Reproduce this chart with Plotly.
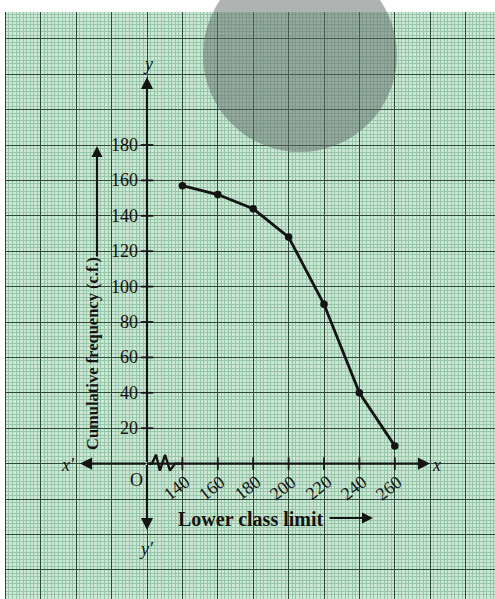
import plotly.graph_objects as go

# ogive ("more than" type)
lower_limits = [140, 160, 180, 200, 220, 240, 260]
cum_freq = [157, 152, 144, 128, 90, 40, 10]

y_ticks = [20, 40, 60, 80, 100, 120, 140, 160, 180]
x_ticks = [140, 160, 180, 200, 220, 240, 260]

# the origin stands for 120 on the x scale (axis break drawn as a zigzag)
x_origin = 120
break_x = [120, 122.8, 125.1, 127.3, 130.2, 133.0, 135.8, 140]
break_y = [0, 0, 5, -4, 5, -4, 0, 0]

W, H = 495, 599
K = 35.4 / 20  # pixels per unit (one big square = 20 units)
OX, OY = 147, 463.6  # pixel position of the origin


def dx(p):
    return x_origin + (p - OX) / K


def dy(p):
    return (OY - p) / K


SERIF = "Liberation Serif"
INK = "#141414"
PAPER = "#cde8d6"
MINOR = "#98c6a8"
MAJOR = "#2c4a37"

fig = go.Figure()

# ogive
fig.add_trace(go.Scatter(
    x=lower_limits, y=cum_freq, mode="lines+markers",
    line=dict(color=INK, width=2.8),
    marker=dict(color=INK, size=7.5),
    showlegend=False, hoverinfo="skip",
))

# axis break zigzag
fig.add_trace(go.Scatter(
    x=break_x, y=break_y, mode="lines",
    line=dict(color=INK, width=2.4),
    showlegend=False, hoverinfo="skip",
))

# tick marks
fig.add_trace(go.Scatter(
    x=[x_origin] * len(y_ticks), y=y_ticks, mode="markers",
    marker=dict(symbol="line-ew", size=9, line=dict(color=INK, width=1.8)),
    showlegend=False, hoverinfo="skip",
))
fig.add_trace(go.Scatter(
    x=x_ticks, y=[0] * len(x_ticks), mode="markers",
    marker=dict(symbol="line-ns", size=9, line=dict(color=INK, width=1.8)),
    showlegend=False, hoverinfo="skip",
))

ann = []

# axes with arrow heads, drawn out from the origin
for tip in [(dx(430), 0), (dx(80), 0), (x_origin, dy(77)), (x_origin, dy(530))]:
    ann.append(dict(
        x=tip[0], y=tip[1], ax=x_origin, ay=0, xref="x", yref="y",
        axref="x", ayref="y", text="", showarrow=True,
        arrowhead=2, arrowsize=1.1, arrowwidth=2.2, arrowcolor=INK,
    ))

for v in y_ticks:
    ann.append(dict(
        x=x_origin, y=v, text=str(v), showarrow=False,
        xanchor="right", yanchor="middle", xshift=-7,
        font=dict(family=SERIF, size=18, color=INK),
    ))

for v in x_ticks:
    ann.append(dict(
        x=v, y=0, text=str(v), showarrow=False, textangle=-38,
        xanchor="center", yanchor="middle", xshift=-6, yshift=-24,
        font=dict(family=SERIF, size=18, color=INK),
    ))

# axis letters
for txt, px, py in [("O", 136, 480), ("x\u2032", 68, 465), ("x", 436, 465),
                    ("y", 148, 64), ("y\u2032", 146, 549)]:
    ann.append(dict(
        x=dx(px), y=dy(py), text=txt if txt == "O" else f"<i>{txt}</i>",
        showarrow=False, xanchor="center", yanchor="middle",
        font=dict(family=SERIF, size=18, color=INK),
    ))

# axis titles
ann.append(dict(
    x=dx(92), y=dy(354), text="<b>Cumulative frequency (c.f.)</b>",
    showarrow=False, textangle=-90, xanchor="center", yanchor="middle",
    font=dict(family=SERIF, size=16.5, color=INK),
))
ann.append(dict(
    x=dx(97), y=dy(146), ax=dx(97), ay=dy(258), xref="x", yref="y",
    axref="x", ayref="y", text="", showarrow=True,
    arrowhead=2, arrowsize=1, arrowwidth=2.2, arrowcolor=INK,
))
ann.append(dict(
    x=dx(251), y=dy(519), text="<b>Lower class limit</b>",
    showarrow=False, xanchor="center", yanchor="middle",
    font=dict(family=SERIF, size=20, color=INK),
))
ann.append(dict(
    x=dx(373), y=dy(518), ax=dx(328), ay=dy(518), xref="x", yref="y",
    axref="x", ayref="y", text="", showarrow=True,
    arrowhead=2, arrowsize=1, arrowwidth=2.2, arrowcolor=INK,
))

shapes = [
    # white strip above the graph paper and at its left edge
    dict(type="rect", xref="paper", yref="y", x0=0, x1=1, y0=dy(12), y1=dy(-5),
         fillcolor="white", line_width=0, layer="above"),
    dict(type="rect", xref="x", yref="paper", x0=dx(-5), x1=dx(5), y0=0, y1=1,
         fillcolor="white", line_width=0, layer="above"),
    # faded watermark disc
    dict(type="circle", xref="x", yref="y", x0=dx(203), x1=dx(397),
         y0=dy(152), y1=dy(-42), fillcolor="rgba(95,105,103,0.5)",
         line_width=0, layer="above"),
]

fig.update_layout(
    width=W, height=H,
    margin=dict(l=0, r=0, t=0, b=0),
    paper_bgcolor="white", plot_bgcolor=PAPER,
    annotations=ann, shapes=shapes,
    xaxis=dict(
        range=[dx(0), dx(W)], tick0=x_origin, dtick=20,
        showgrid=True, gridcolor=MAJOR, gridwidth=1.4,
        minor=dict(dtick=2, showgrid=True, gridcolor=MINOR, gridwidth=1),
        zeroline=False, showticklabels=False, ticks="", fixedrange=True,
    ),
    yaxis=dict(
        range=[dy(H), dy(0)], tick0=0, dtick=20,
        showgrid=True, gridcolor=MAJOR, gridwidth=1.4,
        minor=dict(dtick=2, showgrid=True, gridcolor=MINOR, gridwidth=1),
        zeroline=False, showticklabels=False, ticks="", fixedrange=True,
    ),
)

fig.write_html("out.html", config={"displayModeBar": False})

# drop the default page margin so the figure sits at the window corner
with open("out.html", encoding="utf-8") as f:
    html = f.read()
html = html.replace("<head>", "<head><style>body{margin:0;overflow:hidden}</style>", 1)
with open("out.html", "w", encoding="utf-8") as f:
    f.write(html)
